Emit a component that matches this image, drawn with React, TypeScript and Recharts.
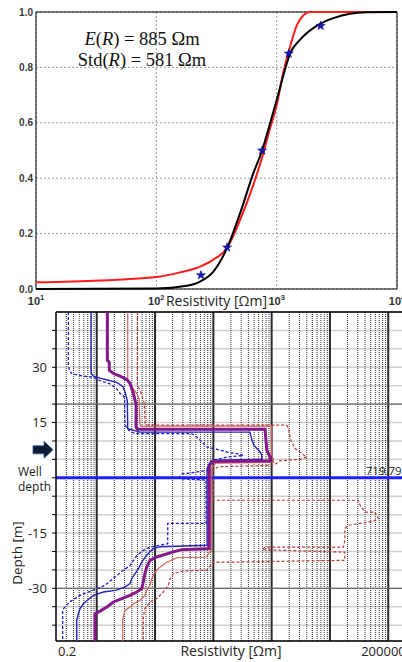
import React from "react";
import {
  ComposedChart,
  ScatterChart,
  Line,
  Scatter,
  XAxis,
  YAxis,
  ZAxis,
  CartesianGrid,
  ReferenceLine,
  ReferenceArea,
  ReferenceDot,
} from "recharts";

// ---- top panel: empirical + fitted CDF of resistivity ----
const cdfTicks = [10, 100, 1000, 10000];
const probTicks = [0, 0.2, 0.4, 0.6, 0.8, 1];

const blackR = [10, 100, 179, 231, 298, 387, 497, 640, 757, 881, 1000, 1138, 1291, 1567, 2290, 2958, 4070, 5610, 10000];
const blackF = [0, 0.002, 0.012, 0.027, 0.063, 0.148, 0.274, 0.418, 0.5, 0.598, 0.682, 0.772, 0.85, 0.9, 0.957, 0.978, 0.994, 0.999, 1];

const redR = [10, 34, 100, 157, 231, 298, 387, 497, 640, 775, 881, 1000, 1138, 1291, 1469, 1668, 1896, 10000];
const redF = [0.024, 0.031, 0.043, 0.06, 0.081, 0.106, 0.148, 0.25, 0.376, 0.49, 0.58, 0.664, 0.784, 0.874, 0.952, 0.988, 1, 1];

const starR = [235, 387, 757, 1260, 2320];
const starF = [0.05, 0.15, 0.5, 0.85, 0.95];

const meanText = "885";
const stdText = "581";

// ---- bottom panel: resistivity vs depth profiles [resistivity, depth] ----
const depthTicks = [40, 35, 30, 25, 20, 15, 10, 5, 0, -5, -10, -15, -20, -25, -30, -35, -40];
const depthLabels = [30, 15, -15, -30];
const darkDepths = [20, -30];
const decades = [1, 10, 100, 1000, 10000, 100000];
const subSteps = [2, 3, 4, 5, 6, 7, 8, 9];
const wellValue = "719.79";
const arrowDepth = 7.6;

const blueDashed = [
  [0.326, 45], [0.326, 30.5], [0.34, 29.2], [0.37, 28.3], [0.58, 27.6], [0.875, 27.3], [1.13, 26.4],
  [1.68, 25.5], [2.2, 24.2], [2.5, 22.9], [2.8, 22.5], [3.0, 21.6], [3.06, 14.3], [3.6, 12.8], [4.5, 12.0],
  [42.5, 12.0], [52, 11.1], [77, 8.4], [170, 7.0], [268, 6.5], [327, 6.1], [170, 5.6], [100, 4.75],
  [88, 4.3], [82, 2.0], [52, 1.6], [40, 1.3], [28.7, 1.0], [26.8, 0.5], [26.8, -0.3], [75, -0.6],
  [75, -12.4], [16.5, -12.4], [16.5, -17.9], [12.2, -18.3], [8.2, -18.8], [6.3, -19.7], [4.86, -21.1],
  [4.25, -22.5], [3.73, -23.8], [2.86, -25.1], [2.2, -26.5], [1.39, -29.2], [0.875, -30.5], [0.517, -31.9],
  [0.35, -33.6], [0.286, -35.0], [0.26, -35.9], [0.26, -44.3],
];

const blueSolid = [
  [0.8, 45], [0.8, 28.3], [0.88, 27.6], [1.3, 26.8], [2.2, 25.9], [2.8, 24.8], [3.1, 23.0], [3.35, 20.8],
  [3.4, 13.3], [5.5, 12.4], [425, 12.4], [456, 10.3], [500, 8.8], [634, 7.0], [676, 6.1], [676, 5.0],
  [100, 4.8], [85, 3.8], [78, 2.5], [78, -18.3], [12.2, -18.7], [9.35, -19.2], [8.2, -20.1], [7.2, -21.0],
  [5.9, -22.9], [5.17, -24.7], [4.54, -26.0], [3.98, -27.4], [3.73, -28.7], [3.06, -29.6], [2.2, -30.5],
  [1.3, -31.0], [0.875, -31.9], [0.589, -34.2], [0.517, -35.5], [0.484, -36.9], [0.454, -38.7], [0.454, -44.3],
];

const purpleMid = [
  [1.52, 45], [1.52, 31.9], [1.64, 31.4], [1.64, 29.2], [1.93, 28.3], [2.51, 27.6], [3.27, 26.7],
  [3.73, 25.6], [3.98, 24.2], [4.25, 22.9], [4.54, 21.0], [4.72, 20.0], [4.72, 13.8], [5.0, 13.2],
  [771, 13.2], [824, 7.5], [940, 5.6], [940, 4.6], [96, 4.4], [88, 3.5], [85, 3.0], [85, -19.2],
  [28.7, -19.5], [20.6, -20.1], [10.7, -21.5], [8.2, -22.4], [7.2, -24.2], [6.7, -26.0], [6.2, -28.7],
  [5.9, -30.1], [4.85, -31.0], [3.7, -31.9], [2.7, -32.8], [1.93, -33.7], [1.49, -35.1], [1.14, -36.2],
  [0.935, -36.9], [0.935, -44.3],
];

const redSolid = [
  [3.4, 45], [3.4, 26.5], [3.73, 25.6], [4.1, 24.4], [4.54, 23.5], [4.97, 22.6], [5.3, 21.5], [5.5, 14.6],
  [5.7, 14.0], [1000, 14.0], [1000, 6.1], [1070, 5.0], [1070, 4.2], [110, 4.0], [100, 3.2], [92, 2.5],
  [92, -19.8], [85, -20.3], [77, -21.5], [23.5, -21.7], [15.9, -22.9], [12.2, -24.2], [10, -25.6],
  [8.8, -27.4], [8.2, -29.2], [7.2, -30.5], [6.7, -31.9], [5.5, -33.3], [4.25, -34.2], [3.73, -35.1],
  [3.06, -36.0], [2.86, -37.8], [2.79, -38.5], [2.79, -44.3],
];

const redDashed = [
  [4.97, 45], [4.97, 25.1], [5.5, 23.8], [5.9, 22.5], [6.56, 20.1], [6.74, 14.8], [7.0, 14.3],
  [1800, 14.3], [1950, 13.4], [2100, 10.5], [2500, 8.0], [3980, 5.6], [3090, 5.0], [1380, 4.6],
  [1070, 3.4], [120, 3.0], [100, 2.2], [100, -6.1], [30700, -6.1], [33000, -7.5], [40000, -9.3],
  [59000, -9.3], [67700, -11.1], [55500, -11.8], [20700, -12.9], [18000, -13.8], [18000, -17.0],
  [17000, -18.8], [771, -18.8], [690, -19.5], [18000, -20.2], [18000, -22.4], [193, -22.9], [100, -22.9],
  [77, -25.1], [30.7, -25.3], [20.6, -26.0], [18.1, -27.4], [16.9, -29.2], [13.9, -31.0], [10.7, -32.8],
  [8.2, -33.7], [7.2, -34.9], [6.7, -35.5], [6.3, -37.8], [6.3, -44.3],
];

const zipCdf = (xs: number[], ys: number[]) => xs.map((r, i) => ({ r, f: ys[i] }));
const toPts = (arr: number[][]) => arr.map(([r, d]) => ({ r, d }));

const minorLines = [0.1, ...decades]
  .flatMap((d) => subSteps.map((s) => s * d))
  .filter((v) => v > 0.2 && v < 200000);

const sans = "Open Sans, sans-serif";

const TopXTick = ({ x, y, payload }: any) => (
  <text x={x} y={y + 16} textAnchor="middle" fontFamily="Liberation Sans" fontWeight="bold" fontSize={11} fill="#333">
    10
    <tspan dy={-5} fontSize={7.5}>{Math.round(Math.log10(payload.value))}</tspan>
  </text>
);

const EqText = ({ cx, cy }: any) => (
  <g fontFamily="Liberation Serif, serif" fontSize={18.5} fill="#111">
    <text x={cx} y={cy} textAnchor="middle">
      <tspan fontStyle="italic">E</tspan>(<tspan fontStyle="italic">R</tspan>) = {meanText} Ωm
    </text>
    <text x={cx} y={cy + 20.5} textAnchor="middle">
      Std(<tspan fontStyle="italic">R</tspan>) = {stdText} Ωm
    </text>
  </g>
);

const ResTick = ({ x, y, payload }: any) => {
  const first = payload.value < 1;
  return (
    <text x={first ? x + 2 : x} y={y + 14.5} textAnchor={first ? "start" : "end"} fontFamily={sans} fontSize={13} fill="#222">
      {payload.value}
    </text>
  );
};

const DepthTick = ({ x, y, payload }: any) =>
  depthLabels.includes(payload.value) ? (
    <text x={x - 3} y={y} dy="0.35em" textAnchor="end" fontFamily={sans} fontSize={13} fill="#222">
      {payload.value}
    </text>
  ) : (
    <g />
  );

const WellArrow = ({ cx, cy }: any) => (
  <path
    d={`M${cx - 23},${cy - 4} H${cx - 12} V${cy - 8.5} L${cx - 3},${cy} L${cx - 12},${cy + 8.5} V${cy + 4} H${cx - 23} Z`}
    fill="#0c1a33"
    stroke="#35558f"
    strokeWidth={0.8}
  />
);

const wellLabel = (props: any) => {
  const vb = props.viewBox;
  return (
    <g fontFamily={sans} fill="#222">
      <text x={18} y={vb.y - 2} fontSize={12}>Well</text>
      <text x={18} y={vb.y + 13} fontSize={12}>depth</text>
      <text x={vb.x + vb.width - 40} y={vb.y - 2.5} fontSize={11.5}>{wellValue}</text>
    </g>
  );
};

const noDot = () => <g />;

export default function App() {
  return (
    <div style={{ position: "relative", width: 402, height: 662, overflow: "hidden", background: "#fff" }}>
      <style>{"body{margin:0}"}</style>
      <div style={{ position: "absolute", left: 0, top: 0 }}>
        <ComposedChart width={402} height={312} margin={{ top: 12, right: 5, bottom: 0, left: 0 }}>
          <CartesianGrid stroke="#9a9a9a" strokeDasharray="2 2" />
          <XAxis
            type="number"
            dataKey="r"
            scale="log"
            domain={[10, 10000]}
            allowDataOverflow
            ticks={cdfTicks}
            interval={0}
            height={23}
            tickSize={0}
            tickMargin={0}
            axisLine={false}
            tick={<TopXTick />}
            label={{
              content: () => (
                <text x={216.5} y={306} textAnchor="middle" fontFamily={sans} fontSize={14} fill="#222">
                  Resistivity [Ωm]
                </text>
              ),
            }}
          />
          <YAxis
            type="number"
            dataKey="f"
            domain={[0, 1]}
            ticks={probTicks}
            interval={0}
            width={36}
            tickSize={0}
            tickMargin={3}
            axisLine={false}
            tickFormatter={(v: number) => v.toFixed(1)}
            tick={{ fontFamily: "Liberation Sans", fontWeight: "bold", fontSize: 10, fill: "#3a3a3a" }}
          />
          <ZAxis range={[26, 26]} />
          <Line data={zipCdf(redR, redF)} dataKey="f" type="monotone" stroke="#ff1a1a" strokeWidth={2} dot={false} isAnimationActive={false} />
          <Line data={zipCdf(blackR, blackF)} dataKey="f" type="monotone" stroke="#000" strokeWidth={2} dot={false} isAnimationActive={false} />
          <Scatter data={zipCdf(starR, starF)} shape="star" fill="#1414c8" stroke="#0a0a55" strokeWidth={0.5} isAnimationActive={false} />
          <ReferenceArea x1={10} x2={10000} y1={0} y2={1} fill="none" stroke="#000" strokeWidth={1} ifOverflow="visible" />
          <ReferenceDot x={76} y={0.88} r={1} shape={EqText} ifOverflow="visible" />
        </ComposedChart>
      </div>

      <div style={{ position: "absolute", left: 0, top: 304 }}>
        <ScatterChart width={410} height={358} margin={{ top: 8, right: 4.2, bottom: 0, left: 0 }}>
          <CartesianGrid vertical={false} stroke="#cfcfcf" strokeWidth={1.5} />
          {minorLines.map((v) => (
            <ReferenceLine key={`mn${v}`} x={v} stroke="#1a1a1a" strokeDasharray="1 1" strokeWidth={0.9} />
          ))}
          {decades.map((v) => (
            <ReferenceLine key={`mj${v}`} x={v} stroke="#2a2a2a" strokeWidth={2} />
          ))}
          {darkDepths.map((d) => (
            <ReferenceLine key={`dd${d}`} y={d} stroke="#6a6a6a" strokeWidth={1.2} />
          ))}
          <XAxis
            type="number"
            dataKey="r"
            scale="log"
            domain={[0.2, 200000]}
            allowDataOverflow
            ticks={[0.2, 200000]}
            interval={0}
            tickLine={false}
            tickSize={0}
            tickMargin={0}
            height={21}
            tick={<ResTick />}
            axisLine={{ stroke: "#000", strokeWidth: 1.5 }}
            label={{
              content: () => (
                <text x={231} y={352} textAnchor="middle" fontFamily={sans} fontSize={14} fill="#222">
                  Resistivity [Ωm]
                </text>
              ),
            }}
          />
          <YAxis
            type="number"
            dataKey="d"
            domain={[-44.3, 45]}
            allowDataOverflow
            ticks={depthTicks}
            interval={0}
            width={56}
            tickSize={4}
            tickMargin={2}
            tick={<DepthTick />}
            tickLine={{ stroke: "#000" }}
            axisLine={{ stroke: "#000", strokeWidth: 1.5 }}
            label={{
              content: () => (
                <text x={17} y={249} dy="0.35em" transform="rotate(-90 17 249)" textAnchor="middle" fontFamily={sans} fontSize={13.5} fill="#222">
                  Depth [m]
                </text>
              ),
            }}
          />
          <Scatter data={toPts(redDashed)} fill="#b83a3a" shape={noDot} line={{ stroke: "#b83a3a", strokeWidth: 1.2, strokeDasharray: "3 2" }} isAnimationActive={false} />
          <Scatter data={toPts(blueDashed)} fill="#2323c8" shape={noDot} line={{ stroke: "#1f1fc4", strokeWidth: 1.3, strokeDasharray: "3 2" }} isAnimationActive={false} />
          <Scatter data={toPts(redSolid)} fill="#d0605a" shape={noDot} line={{ stroke: "#cf5f59", strokeWidth: 1.2 }} isAnimationActive={false} />
          <Scatter data={toPts(blueSolid)} fill="#2a2ab8" shape={noDot} line={{ stroke: "#2424b4", strokeWidth: 1.4 }} isAnimationActive={false} />
          <Scatter data={toPts(purpleMid)} fill="#84188a" shape={noDot} line={{ stroke: "#84188a", strokeWidth: 3 }} isAnimationActive={false} />
          <ReferenceLine y={0} stroke="#1f1fff" strokeWidth={3} label={wellLabel} />
          <ReferenceLine y={45} stroke="#000" strokeWidth={1.5} />
          <ReferenceDot x={0.2} y={arrowDepth} r={1} shape={WellArrow} ifOverflow="visible" />
        </ScatterChart>
      </div>
    </div>
  );
}
